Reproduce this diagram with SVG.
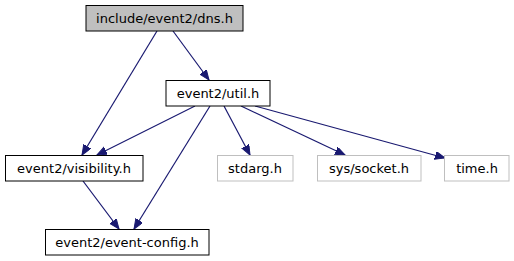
<svg xmlns="http://www.w3.org/2000/svg" width="514" height="261" viewBox="0 0 514 261">
<style>
.n rect{fill:#ffffff;stroke:#000000;stroke-width:1}
.n.root rect{fill:#bfbfbf}
.n.ext rect{stroke:#bfbfbf}
.n text{font-family:"DejaVu Sans",sans-serif;font-size:13px;text-anchor:middle;fill:#000000}
.e line{stroke:#191970;stroke-width:1.2;fill:none;marker-end:url(#ah)}
</style>
<defs>
<marker id="ah" markerUnits="userSpaceOnUse" markerWidth="12" markerHeight="10" refX="10" refY="4" orient="auto">
<path d="M0,0 L10,4 L0,8 z" fill="#191970" stroke="#191970" stroke-width="1"/>
</marker>
</defs>
<rect width="514" height="261" fill="#ffffff"/>
<g id="edges" class="e">
<line x1="157" y1="31" x2="82" y2="155"/>
<line x1="173" y1="31" x2="209" y2="80"/>
<line x1="195" y1="106" x2="97" y2="155"/>
<line x1="210" y1="106" x2="134" y2="229"/>
<line x1="224" y1="106" x2="250" y2="155"/>
<line x1="241" y1="106" x2="345" y2="155"/>
<line x1="255" y1="106" x2="445" y2="158"/>
<line x1="83" y1="181" x2="119" y2="229"/>
</g>
<g id="dns" class="n root"><rect x="86" y="5.5" width="157" height="25.5"/><text x="164.5" y="22.5">include/event2/dns.h</text></g>
<g id="util" class="n"><rect x="166" y="80.5" width="104" height="25.5"/><text x="218" y="97.5">event2/util.h</text></g>
<g id="visibility" class="n"><rect x="5.5" y="155.5" width="137.5" height="25.5"/><text x="74" y="172.5">event2/visibility.h</text></g>
<g id="config" class="n"><rect x="45.5" y="229.5" width="163.5" height="25.5"/><text x="127" y="246.5">event2/event-config.h</text></g>
<g id="stdarg" class="n ext"><rect x="217.5" y="155.5" width="75.5" height="25.5"/><text x="255" y="172.5">stdarg.h</text></g>
<g id="socket" class="n ext"><rect x="317.5" y="155.5" width="103.5" height="25.5"/><text x="369" y="172.5">sys/socket.h</text></g>
<g id="time" class="n ext"><rect x="444.5" y="155.5" width="64.5" height="25.5"/><text x="477" y="172.5">time.h</text></g>
</svg>
